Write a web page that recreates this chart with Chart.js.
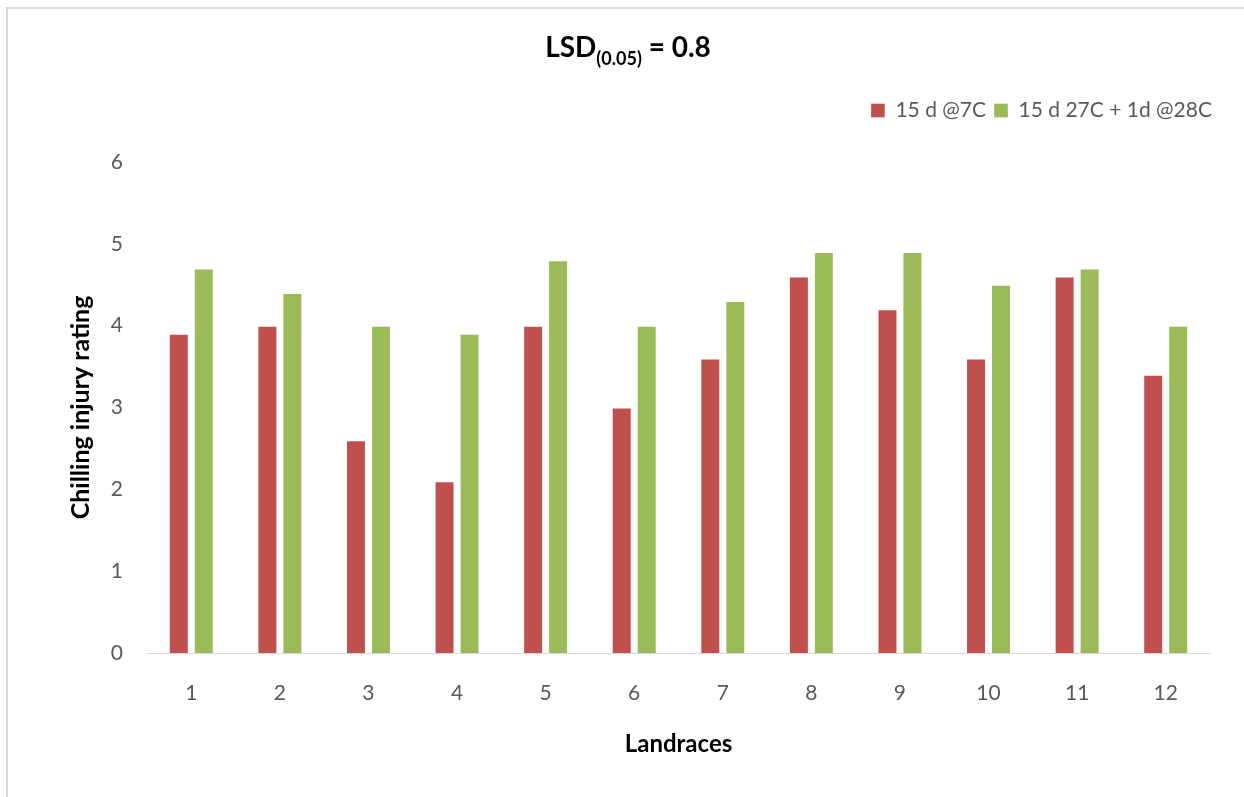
<!DOCTYPE html>
<html>
<head>
<meta charset="utf-8">
<style>
  html, body { margin: 0; padding: 0; background: #ffffff; }
  #wrap { position: relative; width: 1244px; height: 797px; }
</style>
<script src="https://cdn.jsdelivr.net/npm/chart.js@4.4.1/dist/chart.umd.min.js"></script>
</head>
<body>
<div id="wrap"><canvas id="chart" width="1244" height="797"></canvas></div>
<script>
// Landraces and chilling injury ratings under the two storage regimes
const landraces = ['1', '2', '3', '4', '5', '6', '7', '8', '9', '10', '11', '12'];
const cold7C = [3.9, 4.0, 2.6, 2.1, 4.0, 3.0, 3.6, 4.6, 4.2, 3.6, 4.6, 3.4];
const warm27C = [4.7, 4.4, 4.0, 3.9, 4.8, 4.0, 4.3, 4.9, 4.9, 4.5, 4.7, 4.0];
const seriesNames = ['15 d @7C', '15 d 27C + 1d @28C'];
const yTicks = [0, 1, 2, 3, 4, 5, 6];

const FONT = 'Lato, "Open Sans", sans-serif';
const TICK_COLOR = '#595959';

// Light frame along the top and left edges of the chart block
const framePlugin = {
  id: 'frame',
  beforeDraw(chart) {
    const ctx = chart.ctx;
    ctx.save();
    ctx.fillStyle = '#ffffff';
    ctx.fillRect(0, 0, chart.width, chart.height);
    ctx.strokeStyle = '#d9d9d9';
    ctx.lineWidth = 2;
    ctx.beginPath();
    ctx.moveTo(7, chart.height);
    ctx.lineTo(7, 8);
    ctx.lineTo(chart.width, 8);
    ctx.stroke();
    ctx.restore();
  }
};

// Title with a subscript: LSD(0.05) = 0.8
const subTitlePlugin = {
  id: 'subTitle',
  afterDraw(chart) {
    const ctx = chart.ctx;
    const parts = [
      { text: 'LSD', size: 28, dy: 0 },
      { text: '(0.05)', size: 18, dy: 8 },
      { text: ' = 0.8', size: 28, dy: 0 }
    ];
    ctx.save();
    ctx.fillStyle = '#000000';
    ctx.textBaseline = 'alphabetic';
    let total = 0;
    parts.forEach(p => {
      ctx.font = 'bold ' + p.size + 'px ' + FONT;
      p.w = ctx.measureText(p.text).width;
      total += p.w;
    });
    let x = 628 - total / 2;
    const baseY = 57;
    parts.forEach(p => {
      ctx.font = 'bold ' + p.size + 'px ' + FONT;
      ctx.fillText(p.text, x, baseY + p.dy);
      x += p.w;
    });
    ctx.restore();
  }
};

// Extra room between the legend and the plot; legend sits a little further right
const legendGapPlugin = {
  id: 'legendGap',
  beforeInit(chart) {
    const fit = chart.legend.fit;
    chart.legend.fit = function () {
      fit.bind(chart.legend)();
      this.height += 31;
    };
  },
  afterLayout(chart) {
    chart.legend.left += 10;
    chart.legend.right += 10;
  }
};

new Chart(document.getElementById('chart'), {
  type: 'bar',
  data: {
    labels: landraces,
    datasets: [
      {
        label: seriesNames[0],
        data: cold7C,
        backgroundColor: '#C0504D',
        borderColor: 'rgba(255,255,255,0.35)',
        borderWidth: 1
      },
      {
        label: seriesNames[1],
        data: warm27C,
        backgroundColor: '#9BBB59',
        borderColor: 'rgba(255,255,255,0.35)',
        borderWidth: 1
      }
    ]
  },
  options: {
    responsive: false,
    animation: false,
    devicePixelRatio: 1,
    categoryPercentage: 0.564,
    barPercentage: 0.8,
    layout: { padding: { top: 92, right: 34, left: 0, bottom: 0 } },
    plugins: {
      title: { display: false },
      tooltip: { enabled: false },
      legend: {
        position: 'top',
        align: 'end',
        labels: {
          boxWidth: 14,
          boxHeight: 14,
          padding: 8,
          color: TICK_COLOR,
          font: { family: FONT, size: 21 }
        }
      }
    },
    scales: {
      x: {
        grid: { display: false, drawTicks: false },
        border: { display: true, color: '#d9d9d9', width: 1 },
        ticks: {
          color: TICK_COLOR,
          padding: 28,
          font: { family: FONT, size: 21 }
        },
        title: {
          display: true,
          text: 'Landraces',
          color: '#000000',
          font: { family: FONT, size: 24, weight: 'bold' },
          padding: { top: 0, bottom: 38 }
        },
        afterFit(scale) { scale.height = 144; }
      },
      y: {
        min: 0,
        max: 6,
        afterBuildTicks(scale) { scale.ticks = yTicks.map(v => ({ value: v })); },
        grid: { display: false, drawTicks: false },
        border: { display: false },
        ticks: {
          color: TICK_COLOR,
          padding: 24,
          font: { family: FONT, size: 21 }
        },
        title: {
          display: true,
          text: 'Chilling injury rating',
          color: '#000000',
          font: { family: FONT, size: 25, weight: 'bold' },
          padding: { top: 66, bottom: 0 }
        },
        afterFit(scale) { scale.width = 147; }
      }
    }
  },
  plugins: [framePlugin, subTitlePlugin, legendGapPlugin]
});
</script>
</body>
</html>
